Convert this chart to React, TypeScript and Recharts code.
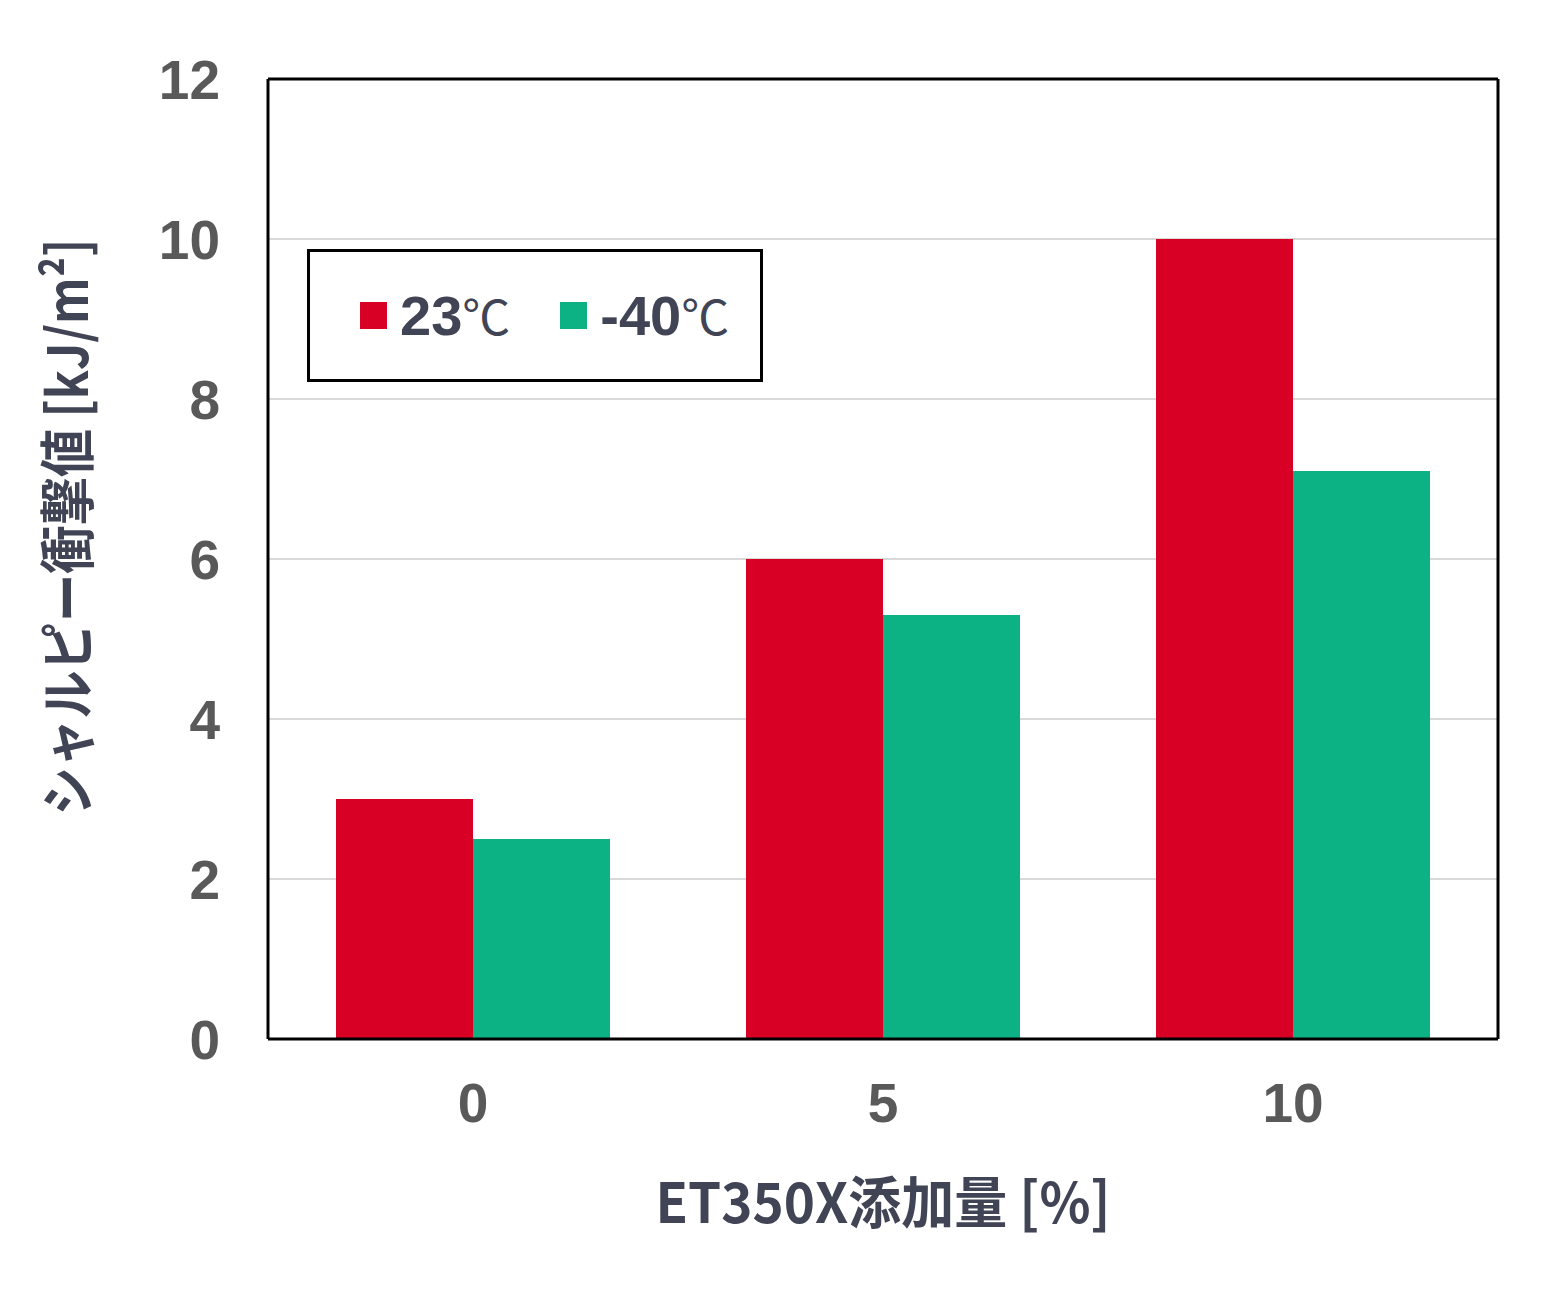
import { BarChart, Bar, XAxis, YAxis, CartesianGrid, Legend, Label } from "recharts";

const categories = ["0", "5", "10"];
const series23 = [3.0, 6.0, 10.0];
const seriesMinus40 = [2.5, 5.3, 7.1];
const seriesNames = ["23℃", "-40℃"];
const seriesColors = ["#D90026", "#0DB284"];
const yTicks = [0, 2, 4, 6, 8, 10, 12];
const xTitle = "ET350X添加量 [%]";
const yTitle = "シャルピー衝撃値 [kJ/m²]";

const data = categories.map((c, i) => ({
  name: c,
  t23: series23[i],
  t40: seriesMinus40[i],
}));

const tickStyle = {
  fill: "#595959",
  fontSize: 55,
  fontWeight: 700,
  fontFamily: "'Liberation Sans', Arial, sans-serif",
};

const titleColor = "#404455";
const cjkFont = "'Noto Sans CJK JP', 'Noto Sans', sans-serif";

function LegendBox() {
  return (
    <div
      style={{
        boxSizing: "border-box",
        width: 456,
        height: 133,
        border: "3px solid #000",
        background: "#fff",
        display: "flex",
        alignItems: "center",
        paddingLeft: 50,
      }}
    >
      {seriesNames.map((name, i) => {
        const num = name.replace("℃", "");
        return (
          <div
            key={name}
            style={{ display: "flex", alignItems: "center", marginLeft: i ? 50 : 0 }}
          >
            <span
              style={{
                display: "inline-block",
                width: 27,
                height: 27,
                background: seriesColors[i],
                marginRight: 13,
              }}
            />
            <span
              style={{
                color: titleColor,
                fontSize: 56,
                lineHeight: 1,
                fontWeight: 700,
                fontFamily: "'Liberation Sans', Arial, sans-serif",
              }}
            >
              {num}
              <span style={{ fontFamily: cjkFont, fontWeight: 400, fontSize: 48 }}>℃</span>
            </span>
          </div>
        );
      })}
    </div>
  );
}

function XTitle(props: any) {
  const vb = props.viewBox;
  const cx = vb.x + vb.width / 2;
  return (
    <text
      x={cx}
      y={1223}
      textAnchor="middle"
      fontSize={56}
      fontWeight={700}
      fontFamily={cjkFont}
      fill={titleColor}
      textLength={455}
      lengthAdjust="spacingAndGlyphs"
    >
      {xTitle}
    </text>
  );
}

function YTitle(props: any) {
  const vb = props.viewBox;
  const cx = 63;
  const cy = vb.y + vb.height / 2 - 32;
  return (
    <text
      x={cx}
      y={cy}
      transform={`rotate(-90, ${cx}, ${cy})`}
      textAnchor="middle"
      dominantBaseline="central"
      fontSize={56}
      fontWeight={700}
      fontFamily={cjkFont}
      fill={titleColor}
      textLength={577}
      lengthAdjust="spacingAndGlyphs"
    >
      {yTitle}
    </text>
  );
}

export default function App() {
  return (
    <div style={{ position: "absolute", left: 0, top: 0, width: 1557, height: 1316, background: "#fff" }}>
      <BarChart
        width={1557}
        height={1316}
        data={data}
        margin={{ top: 78, right: 58, bottom: 0, left: 0 }}
        barCategoryGap={68}
        barGap={0}
      >
        <CartesianGrid horizontal vertical={false} stroke="#d9d9d9" strokeWidth={2} />
        <Bar dataKey="t23" name={seriesNames[0]} fill={seriesColors[0]} isAnimationActive={false} />
        <Bar dataKey="t40" name={seriesNames[1]} fill={seriesColors[1]} isAnimationActive={false} />
        <XAxis
          dataKey="name"
          height={277}
          tick={tickStyle}
          tickLine={false}
          tickSize={0}
          tickMargin={44}
          axisLine={{ stroke: "#000", strokeWidth: 3 }}
        >
          <Label content={<XTitle />} />
        </XAxis>
        <XAxis
          xAxisId="top"
          dataKey="name"
          orientation="top"
          height={1}
          tick={false}
          tickLine={false}
          axisLine={{ stroke: "#000", strokeWidth: 3 }}
        />
        <YAxis
          width={268}
          domain={[0, 12]}
          ticks={yTicks}
          tick={tickStyle}
          tickLine={false}
          tickSize={0}
          tickMargin={48}
          axisLine={{ stroke: "#000", strokeWidth: 3 }}
        >
          <Label content={<YTitle />} />
        </YAxis>
        <YAxis
          yAxisId="right"
          orientation="right"
          width={1}
          domain={[0, 12]}
          tick={false}
          tickLine={false}
          axisLine={{ stroke: "#000", strokeWidth: 3 }}
        />
        <Legend
          layout="horizontal"
          verticalAlign="middle"
          align="center"
          content={<LegendBox />}
          wrapperStyle={{ left: 307, top: 249, width: 456, height: 133 }}
        />
      </BarChart>
    </div>
  );
}
